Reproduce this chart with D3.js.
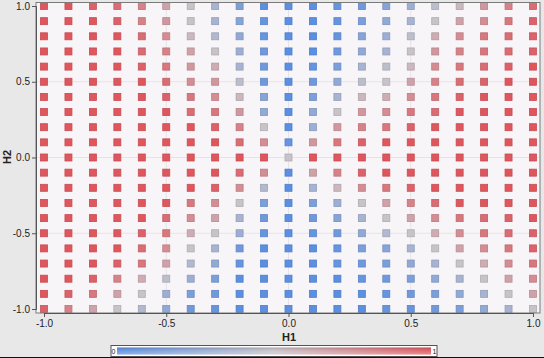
<!DOCTYPE html>
<html><head><meta charset="utf-8">
<script src="https://cdn.jsdelivr.net/npm/d3@7"></script>
<style>
html,body{margin:0;padding:0;background:#e8e8e8;}
svg{display:block;font-family:"Liberation Sans",Arial,sans-serif;}
</style></head>
<body><svg id="c" width="544" height="358"></svg>
<script>
// grid coordinates
const h1Values = [-1,-0.9,-0.8,-0.7,-0.6,-0.5,-0.4,-0.3,-0.2,-0.1,0,0.1,0.2,0.3,0.4,0.5,0.6,0.7,0.8,0.9,1];
const h2Values = [1,0.9,0.8,0.7,0.6,0.5,0.4,0.3,0.2,0.1,0,-0.1,-0.2,-0.3,-0.4,-0.5,-0.6,-0.7,-0.8,-0.9,-1];
const tickValues = [-1,-0.5,0,0.5,1];
const colorbarTicks = ["0","1"];
// predicted value per cell, rows from H2 = 1.0 (top) down to H2 = -1.0
const row_p10 = [1,1,.95,.9,.8,.65,.5,.35,.15,0,0,0,.05,.1,.2,.3,.45,.55,.7,.8,.9];
const row_p09 = [1,1,1,.95,.8,.7,.5,.35,.2,.05,0,0,.05,.15,.25,.35,.5,.65,.75,.85,.95];
const row_p08 = [1,1,1,1,.9,.75,.55,.4,.25,.05,0,0,.05,.2,.3,.45,.6,.75,.85,.9,.95];
const row_p07 = [1,1,1,1,.9,.8,.65,.5,.3,.1,0,0,.1,.25,.35,.5,.7,.8,.85,.9,.95];
const row_p06 = [1,1,1,1,.95,.85,.7,.6,.35,.1,0,.05,.15,.35,.45,.55,.75,.85,.9,.95,1];
const row_p05 = [1,1,1,1,1,.9,.75,.7,.45,.1,0,.1,.25,.45,.5,.65,.8,.9,.95,1,1];
const row_p04 = [1,1,1,1,1,.95,.85,.75,.55,.2,0,.15,.35,.55,.6,.75,.85,.95,1,1,1];
const row_p03 = [1,1,1,1,1,1,.9,.85,.7,.25,0,.25,.5,.7,.75,.85,.9,1,1,1,1];
const row_p02 = [1,1,1,1,1,1,1,.95,.8,.5,0,.3,.7,.8,.85,.95,1,1,1,1,1];
const row_p01 = [1,1,1,1,1,1,1,1,.9,.75,.05,.7,.85,.95,1,1,1,1,1,1,1];
const row_00  = [1,1,1,1,1,1,1,1,1,1,.5,1,1,1,1,1,1,1,1,1,1];
const row_m01 = [1,1,1,1,1,1,1,1,.9,.75,0,.65,.8,.95,1,1,1,1,1,1,1];
const row_m02 = [1,1,1,1,1,1,1,.95,.75,.4,0,.35,.55,.75,.85,.95,1,1,1,1,1];
const row_m03 = [1,1,1,1,1,1,.85,.75,.5,.15,0,.15,.3,.5,.65,.8,.9,1,1,1,1];
const row_m04 = [1,1,1,1,1,.9,.75,.65,.35,.1,0,.1,.2,.35,.5,.65,.75,.85,.9,.95,1];
const row_m05 = [1,1,1,1,.95,.85,.6,.5,.3,.05,0,.05,.1,.25,.4,.5,.6,.75,.85,.9,.95];
const row_m06 = [1,1,1,1,.9,.75,.5,.35,.1,0,0,0,.05,.15,.2,.35,.5,.65,.75,.85,.95];
const row_m07 = [1,1,1,.95,.85,.65,.4,.25,.05,0,0,0,.05,.1,.15,.25,.35,.5,.6,.75,.85];
const row_m08 = [1,1,.95,.8,.6,.45,.3,.15,0,0,0,0,0,.05,.1,.15,.25,.35,.5,.65,.75];
const row_m09 = [1,.95,.85,.65,.5,.3,.15,.1,0,0,0,0,0,0,.05,.1,.15,.25,.35,.5,.65];
const row_m10 = [.95,.8,.65,.5,.4,.25,.1,.05,0,0,0,0,0,0,.05,.05,.1,.15,.25,.35,.5];
const rows = [row_p10,row_p09,row_p08,row_p07,row_p06,row_p05,row_p04,row_p03,row_p02,row_p01,row_00,
              row_m01,row_m02,row_m03,row_m04,row_m05,row_m06,row_m07,row_m08,row_m09,row_m10];

const cells = [];
rows.forEach((r,i)=>r.forEach((v,j)=>cells.push({h1:h1Values[j], h2:h2Values[i], v})));

const svg = d3.select("#c");
const frame = {l:36, r:540, t:2.5, b:313};
const x = d3.scaleLinear().domain([-1,1]).range([44,533]);
const y = d3.scaleLinear().domain([-1,1]).range([309,6]);
const color = d3.scaleLinear().domain([0,0.5,1]).range(["#5a8fe2","#c8c3c9","#df565d"]).interpolate(d3.interpolateRgb);

svg.append("rect").attr("width",544).attr("height",358).attr("fill","#e8e8e8");
svg.append("rect").attr("x",frame.l).attr("y",frame.t).attr("width",frame.r-frame.l).attr("height",frame.b-frame.t).attr("fill","#f8f5f8");

// grid
const g = svg.append("g");
g.selectAll("line.vx").data(tickValues.slice(1,-1)).join("line")
  .attr("x1",d=>x(d)).attr("x2",d=>x(d)).attr("y1",frame.t).attr("y2",frame.b)
  .attr("stroke","#e8e2e8").attr("stroke-width",1);
g.selectAll("line.hy").data(tickValues.slice(1,-1)).join("line")
  .attr("y1",d=>y(d)).attr("y2",d=>y(d)).attr("x1",frame.l).attr("x2",frame.r)
  .attr("stroke","#e8e2e8").attr("stroke-width",1);

// squares
const s = 7;
svg.append("g").selectAll("rect").data(cells).join("rect")
  .attr("x",d=>x(d.h1)-s/2).attr("y",d=>y(d.h2)-s/2)
  .attr("width",s).attr("height",s)
  .attr("fill",d=>color(d.v))
  .attr("stroke",d=>d3.color(color(d.v)).darker(0.35))
  .attr("stroke-width",0.8);

// frame
svg.append("rect").attr("x",frame.l).attr("y",frame.t).attr("width",frame.r-frame.l).attr("height",frame.b-frame.t)
  .attr("fill","none").attr("stroke","#7a7a7a").attr("stroke-width",1);

// axes
const fmt = d => d.toFixed(1);
const ax = svg.append("g").attr("transform",`translate(0,${frame.b})`)
  .call(d3.axisBottom(x).tickValues(tickValues).tickFormat(fmt).tickSize(4).tickPadding(3));
const ay = svg.append("g").attr("transform",`translate(${frame.l},0)`)
  .call(d3.axisLeft(y).tickValues(tickValues).tickFormat(fmt).tickSize(4).tickPadding(2));
[ax,ay].forEach(a=>{
  a.select(".domain").attr("stroke","#555");
  a.selectAll(".tick line").attr("stroke","#555");
  a.selectAll("text").attr("font-size",10).attr("fill","#222").attr("font-family","'Liberation Sans',Arial,sans-serif");
});

svg.append("text").attr("x",289).attr("y",341).attr("text-anchor","middle")
  .attr("font-size",11).attr("font-weight","bold").attr("fill","#222").text("H1");
svg.append("text").attr("transform","translate(11,157) rotate(-90)").attr("text-anchor","middle")
  .attr("font-size",11).attr("font-weight","bold").attr("fill","#222").text("H2");

// colorbar
const defs = svg.append("defs");
const grad = defs.append("linearGradient").attr("id","cg");
d3.range(0,1.0001,0.1).forEach(t=>grad.append("stop").attr("offset",t).attr("stop-color",color(t)));
const shade = defs.append("linearGradient").attr("id","sh").attr("x1",0).attr("x2",0).attr("y1",0).attr("y2",1);
shade.append("stop").attr("offset",0).attr("stop-color","#000").attr("stop-opacity",0.15);
shade.append("stop").attr("offset",0.5).attr("stop-color","#fff").attr("stop-opacity",0.1);
shade.append("stop").attr("offset",1).attr("stop-color","#fff").attr("stop-opacity",0.3);
const cb = {x:111, y:345.5, w:326, h:11};
const cs = d3.scaleLinear().domain([0,1]).range([cb.x+6, cb.x+cb.w-6]);
svg.append("rect").attr("x",cb.x).attr("y",cb.y).attr("width",cb.w).attr("height",cb.h)
  .attr("fill","#fff").attr("stroke","#555").attr("stroke-width",1);
svg.append("rect").attr("x",cs(0)).attr("y",cb.y+2).attr("width",cs(1)-cs(0)).attr("height",cb.h-4).attr("fill","url(#cg)");
svg.append("rect").attr("x",cs(0)).attr("y",cb.y+2).attr("width",cs(1)-cs(0)).attr("height",cb.h-4).attr("fill","url(#sh)");
svg.append("text").attr("x",cs(0)-1.5).attr("y",cb.y+8).attr("text-anchor","end").attr("font-size",7).attr("fill","#222").text(colorbarTicks[0]);
svg.append("text").attr("x",cs(1)+1.5).attr("y",cb.y+8).attr("text-anchor","start").attr("font-size",7).attr("fill","#222").text(colorbarTicks[1]);

svg.append("line").attr("x1",0).attr("x2",544).attr("y1",357.5).attr("y2",357.5).attr("stroke","#111");
</script></body></html>
